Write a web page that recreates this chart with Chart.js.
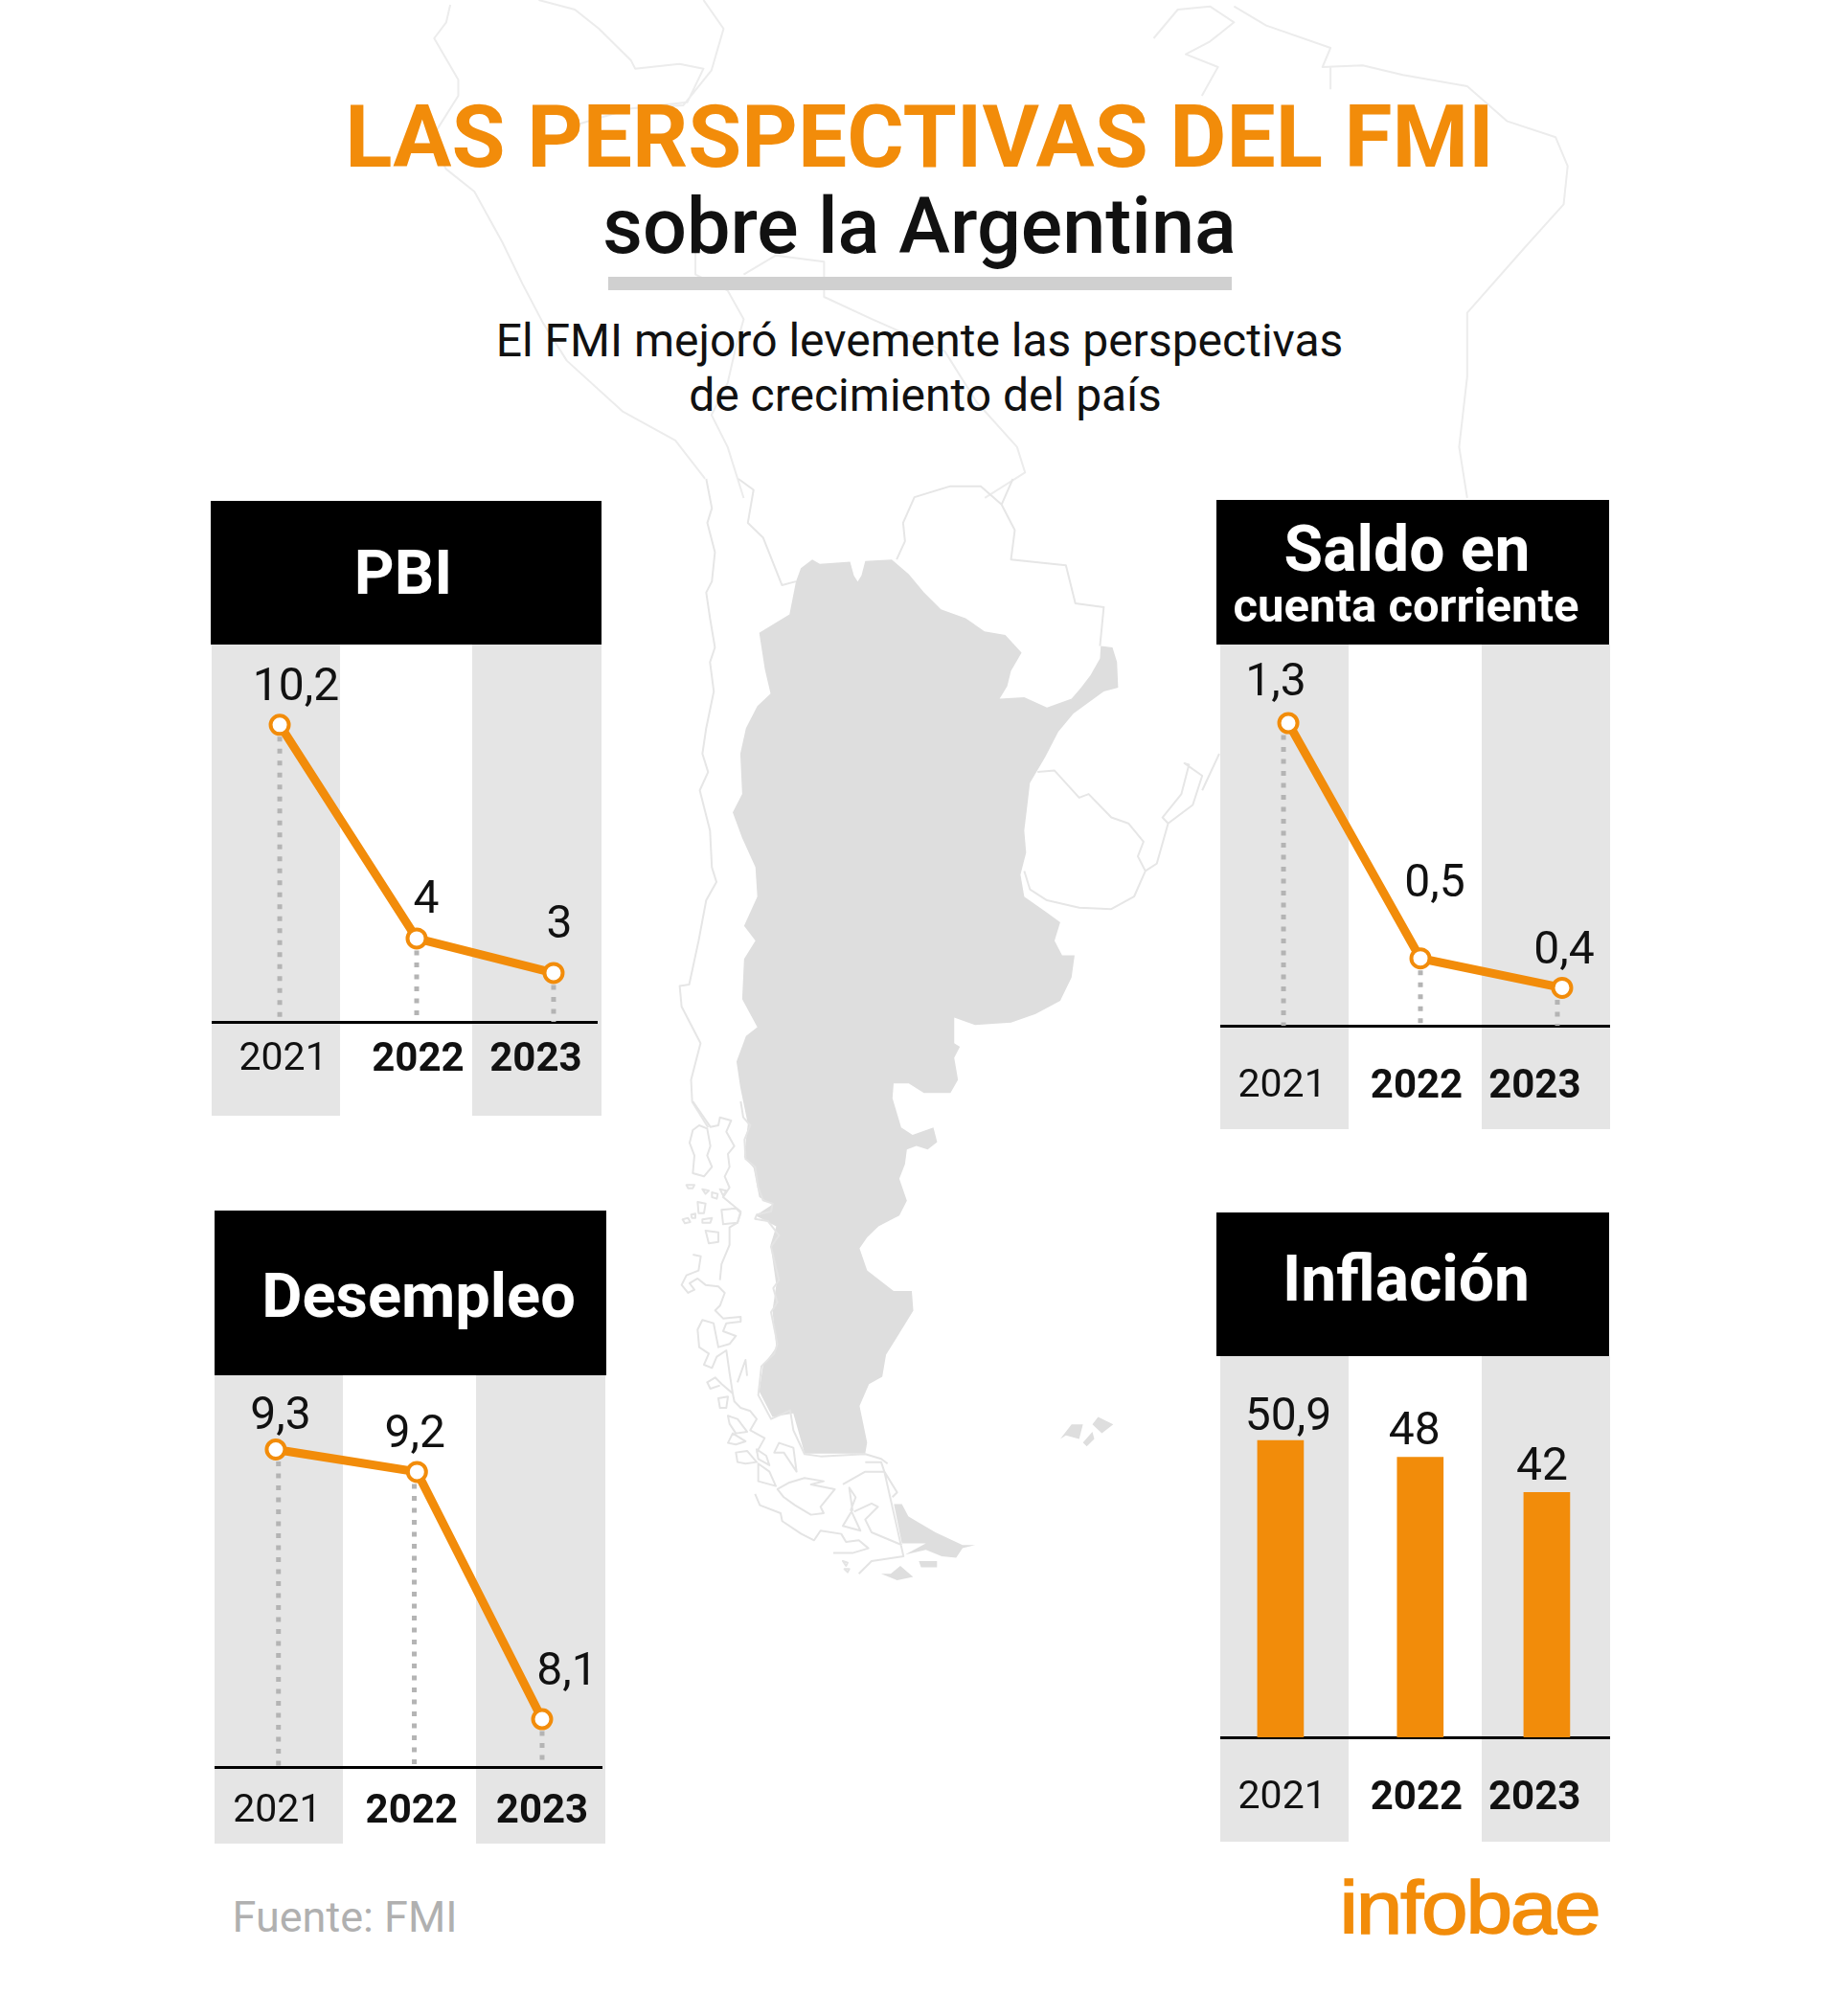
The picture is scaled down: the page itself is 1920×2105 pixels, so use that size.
<!DOCTYPE html>
<html lang="es">
<head>
<meta charset="utf-8">
<title>Las perspectivas del FMI sobre la Argentina</title>
<script src="https://cdn.jsdelivr.net/npm/chart.js@4"></script>
<style>
  html, body { margin: 0; padding: 0; background: #fff; }
  #page { position: relative; width: 1920px; height: 2105px; overflow: hidden; font-family: Roboto, sans-serif; color: #111; }
  #map { position: absolute; left: 0; top: 0; }
  .txt { position: absolute; white-space: nowrap; transform: translate(-50%, -50%); line-height: 1; }
  .head { position: absolute; background: #000; }
  .w { color: #fff; font-weight: 700; }
  canvas { position: absolute; }
</style>
</head>
<body>
<div id="page">
  <svg id="map" width="1920" height="2105" viewBox="0 0 1920 2105" fill="none">
    <g transform="translate(340,0) scale(0.8393,0.3333)" stroke="#ececec" stroke-width="2" stroke-linejoin="round">
      <path vector-effect="non-scaling-stroke" d="M155 15L150 70L135 120L165 250L165 300L130 440L150 530L185 600L220 760L245 890L270 1010L300 1130L370 1290L435 1380L472 1500"/>
      <path vector-effect="non-scaling-stroke" d="M265 0L310 30L340 90L380 190L385 215L440 200L470 215L450 320L380 340L300 400M470 0L495 90L480 220L445 330L380 340"/>
      <path vector-effect="non-scaling-stroke" d="M460 780L460 860L500 910L520 1000L510 1090L500 1200L480 1300L500 1400L520 1560M520 860L560 800L620 820L620 930L680 1000L770 1100L810 1260L860 1400L870 1480L820 1560"/>
      <path vector-effect="non-scaling-stroke" d="M1130 20L1170 80L1250 150L1240 210L1290 205L1340 235L1420 270L1470 380L1530 430L1545 520L1540 640L1490 780L1420 980L1420 1180L1410 1400L1420 1560M1030 120L1060 30L1100 20L1130 70L1100 130L1070 170L1110 210L1090 300M1250 210L1250 280"/>
    </g>
    <g transform="translate(680,500) scale(0.3953,0.7653)">
      <g fill="#dedede">
        <path d="M382 140L395 122L425 110L445 116L525 113L535 132L545 140L555 132L565 112L635 110L680 130L720 155L765 178L830 190L880 208L935 213L978 237L950 262L940 283L920 300L985 298L1045 312L1110 300L1135 285L1160 268L1185 245L1187 228L1218 230L1230 250L1233 285L1195 290L1115 320L1075 345L1040 380L1000 415L992 450L985 480L990 510L975 540L985 570L1040 590L1080 605L1065 630L1085 650L1118 650L1110 680L1080 712L1015 730L950 742L855 745L800 735L800 770L815 775L800 790L810 820L790 838L720 838L680 825L640 825L637 845L660 885L690 895L745 885L755 905L730 915L700 910L675 915L670 935L655 955L675 985L655 1005L600 1020L570 1035L550 1050L570 1080L640 1108L688 1108L692 1135L650 1170L620 1195L610 1225L575 1235L550 1265L570 1315L565 1330L405 1330L375 1275L320 1280L285 1245L295 1210L330 1185L320 1135L330 1100L315 1045L330 1020L275 1005L320 990L285 980L270 940L245 925L255 880L235 830L225 795L250 760L280 748L240 710L245 655L275 630L245 610L280 570L275 530L240 490L215 455L240 430L235 375L250 340L280 310L315 293L300 260L285 210L365 185Z"/>
        <path d="M1080 1310L1110 1290L1140 1290L1130 1310L1095 1305ZM1165 1290L1180 1280L1220 1290L1190 1302ZM1140 1315L1165 1300L1170 1310L1150 1320Z"/>
      </g>
      <g stroke="#e6e6e6" stroke-width="2" stroke-linejoin="round">
        <path vector-effect="non-scaling-stroke" d="M145 0L160 40L148 60L168 100L160 140L145 155L155 190L168 230L155 250L165 290L145 340L135 375L150 400L128 425L155 480L160 530L172 550L145 575L125 630L100 690L75 692L80 720L130 770L105 820L108 850L150 885"/>
        <path vector-effect="non-scaling-stroke" d="M230 0L270 15L255 60L295 80L345 145L382 140M648 110L670 85L665 60L695 25L790 10L870 10L925 35L960 70L950 110L1040 115L1095 118L1120 170L1195 175L1185 228M925 35L955 0"/>
        <path vector-effect="non-scaling-stroke" d="M1020 400L1065 398L1130 435L1155 430L1215 462L1260 470L1300 495L1285 515L1305 535L1275 570L1215 587L1130 585L1045 575L1000 560L985 535M1305 535L1335 525L1365 470L1350 462L1400 430L1420 390L1408 388L1455 405L1430 445L1365 470M1455 425L1500 375"/>
      </g>
    </g>
    <g transform="translate(690,1150) scale(0.3333)">
      <g fill="#dedede">
        <path d="M730 1262L755 1262L775 1300L800 1315L860 1350L945 1390L985 1390L945 1400L925 1430L880 1425L830 1405L765 1420L830 1385L755 1385Z"/>
        <path d="M808 1440L865 1440L865 1460L815 1460ZM690 1480L720 1480L750 1455L790 1490L740 1500Z"/>
      </g>
      <g stroke="#e4e4e4" stroke-width="2" stroke-linejoin="round">
        <path vector-effect="non-scaling-stroke" d="M250 0L258 50L280 75L262 120L265 180L295 205L305 270L320 310L350 320L345 345L300 355L295 368L335 375L370 420L345 455L370 560L352 585L365 630L345 660L365 760L355 790L315 830L305 920L345 995L405 968L415 1030L450 1105L500 1112L640 1105L690 1120L710 1135"/>
        <path vector-effect="non-scaling-stroke" d="M100 90L120 75L145 85L155 140L145 170L160 205L135 235L100 225L105 170L90 130ZM100 0L155 80L180 75L185 50L220 60L205 95L230 140L210 165L215 205L200 235L215 270L195 300L250 345L240 380L215 395L215 450L190 510L185 560"/>
        <path vector-effect="non-scaling-stroke" d="M80 262L105 262L100 272L85 272ZM130 275L150 280L140 290ZM160 285L178 290L175 305L160 300ZM115 315L140 320L135 350L118 350ZM68 370L85 365L92 378L75 382ZM95 355L108 352L108 365L97 365ZM190 340L235 335L250 350L240 380L195 385ZM130 370L160 365L155 380L130 380ZM140 405L180 410L180 440L150 445ZM185 275L205 280L195 295Z"/>
        <path vector-effect="non-scaling-stroke" d="M100 480L125 485L118 530L80 545L65 575L85 600L105 590L90 570L115 555L140 575L180 580L200 600L185 640L170 655L195 680L250 675L250 690L205 695L195 720L235 735L215 760L180 770L165 695L130 685L115 715L120 770L150 790L135 825L160 835L175 800L205 780L215 850L225 915L190 885L170 865L145 880L155 900L185 890M240 880L265 810L270 860M225 915L230 940L250 960L280 970L300 995L280 1030L325 1055L300 1100"/>
        <path vector-effect="non-scaling-stroke" d="M180 930L210 925L205 960L185 960ZM210 1070L225 1040L265 1065L235 1075ZM210 985L240 995L270 1035L235 1040L215 1010ZM235 1100L270 1095L300 1130L265 1135L240 1130ZM300 1090L330 1110L340 1140L305 1120ZM370 1070L415 1085L425 1160L385 1100L355 1100ZM305 1135L340 1160L360 1205L305 1190Z"/>
        <path vector-effect="non-scaling-stroke" d="M400 1195L450 1180L510 1190L470 1200L545 1215L500 1270L510 1290L470 1295L420 1265L385 1240L365 1215ZM295 1230L310 1265L375 1290L380 1315L440 1355L480 1375L500 1345L565 1355L580 1380L620 1375L650 1400L600 1415L540 1415M570 1200L640 1160L700 1160L740 1225L725 1240M640 1130L690 1130L700 1160L760 1425L660 1440L620 1480M590 1210L600 1280L570 1330L625 1345L595 1280L610 1240ZM605 1285L660 1260L680 1270L640 1310L660 1350L755 1390M570 1440L585 1445L580 1455ZM575 1465L590 1465L585 1475Z"/>
      </g>
    </g>
  </svg>

  <div class="txt" style="left:960px;top:143px;font-size:91px;font-weight:700;color:#f28c0a">LAS PERSPECTIVAS DEL FMI</div>
  <div class="txt" style="left:960px;top:236px;font-size:81px;font-weight:500">sobre la Argentina</div>
  <div class="head" style="left:635px;top:289px;width:651px;height:14px;background:#d0d0d0"></div>
  <div class="txt" style="left:960px;top:356px;font-size:48px">El FMI mejoró levemente las perspectivas</div>
  <div class="txt" style="left:966px;top:413px;font-size:48px">de crecimiento del país</div>

  <div class="head" style="left:220px;top:523px;width:408px;height:150px"></div>
  <div class="txt w" style="left:421px;top:598px;font-size:65px">PBI</div>
  <div class="head" style="left:1270px;top:522px;width:410px;height:151px"></div>
  <div class="txt w" style="left:1469px;top:574px;font-size:66px">Saldo en</div>
  <div class="txt w" style="left:1468px;top:632px;font-size:49px">cuenta corriente</div>
  <div class="head" style="left:224px;top:1264px;width:409px;height:172px"></div>
  <div class="txt w" style="left:437px;top:1353px;font-size:65px">Desempleo</div>
  <div class="head" style="left:1270px;top:1266px;width:410px;height:150px"></div>
  <div class="txt w" style="left:1468px;top:1336px;font-size:66px">Inflación</div>

  <canvas id="pbi" width="407" height="492" style="left:221px;top:673px;background:linear-gradient(to right,#e5e5e5 134px,#fff 134px,#fff 272px,#e5e5e5 272px)"></canvas>
  <canvas id="saldo" width="407" height="506" style="left:1274px;top:673px;background:linear-gradient(to right,#e5e5e5 134px,#fff 134px,#fff 273px,#e5e5e5 273px)"></canvas>
  <canvas id="desempleo" width="408" height="489" style="left:224px;top:1436px;background:linear-gradient(to right,#e5e5e5 134px,#fff 134px,#fff 273px,#e5e5e5 273px)"></canvas>
  <canvas id="inflacion" width="407" height="507" style="left:1274px;top:1416px;background:linear-gradient(to right,#e5e5e5 134px,#fff 134px,#fff 273px,#e5e5e5 273px)"></canvas>

  <div class="txt" style="left:360px;top:2001px;font-size:45px;color:#b0b0b0">Fuente: FMI</div>
  <div class="txt" style="left:1534px;top:1992px;font-size:78px;font-family:'Liberation Sans',sans-serif;color:#f28c0a;letter-spacing:-2px;-webkit-text-stroke:1.5px #f28c0a;transform:translate(-50%,-50%) scaleX(1.12)">infobae</div>
</div>

<script>
var years = ['2021', '2022', '2023'];
var pbiValues = [10.2, 4, 3];
var saldoValues = [1.3, 0.5, 0.4];
var desempleoValues = [9.3, 9.2, 8.1];
var inflacionValues = [50.9, 48, 42];

var ORANGE = '#f28c0a';

// writes the value next to each mark, with a comma as in the original
var valueLabels = {
  id: 'valueLabels',
  afterDatasetsDraw: function (chart, args, opts) {
    var ctx = chart.ctx;
    var marks = chart.getDatasetMeta(0).data;
    ctx.save();
    ctx.font = '48px Roboto';
    ctx.fillStyle = '#111';
    ctx.textAlign = 'center';
    ctx.textBaseline = 'middle';
    marks.forEach(function (mark, i) {
      var text = String(chart.data.datasets[0].data[i].y).replace('.', ',');
      ctx.fillText(text, mark.x + opts.shift[i][0], mark.y + opts.shift[i][1]);
    });
    ctx.restore();
  }
};

function xAxis(p) {
  return {
    type: 'linear',
    min: p.xRange[0],
    max: p.xRange[1],
    offset: false,
    grid: { display: false },
    border: { display: true, color: '#000', width: 3 },
    afterBuildTicks: function (axis) {
      axis.ticks = p.labelAt.map(function (v) { return { value: v }; });
    },
    // plot runs the full panel width, labels must not push it in
    afterFit: function (axis) {
      axis.height = p.axisHeight;
      axis.paddingLeft = 0;
      axis.paddingRight = 0;
    },
    ticks: {
      autoSkip: false,
      maxRotation: 0,
      padding: p.tickPad,
      color: '#111',
      font: function (c) {
        return c.index === 0
          ? { family: 'Roboto', size: 41, weight: 'normal' }
          : { family: 'Roboto', size: 42, weight: 'bold' };
      },
      callback: function (v, i) { return years[i]; }
    }
  };
}

function options(p) {
  return {
    responsive: false,
    animation: false,
    layout: { autoPadding: false, padding: { left: 0, top: 0, bottom: 0, right: p.padRight || 0 } },
    plugins: { legend: { display: false }, tooltip: { enabled: false }, valueLabels: { shift: p.shift } },
    scales: {
      x: xAxis(p),
      y: { display: false, min: p.yRange[0], max: p.yRange[1] }
    }
  };
}

function lineChart(id, values, p) {
  var datasets = [{
    data: values.map(function (v, i) { return { x: p.xAt[i], y: v }; }),
    borderColor: ORANGE,
    borderWidth: 9,
    pointRadius: 9.5,
    pointBorderWidth: 4,
    pointBackgroundColor: '#fff',
    pointBorderColor: ORANGE,
    tension: 0
  }];
  // dotted drops down to the axis
  values.forEach(function (v, i) {
    datasets.push({
      data: [{ x: p.dropAt[i], y: v }, { x: p.dropAt[i], y: p.yRange[0] }],
      borderColor: '#b4b4b4',
      borderWidth: 5,
      borderDash: [5, 7.5],
      pointRadius: 0
    });
  });
  new Chart(document.getElementById(id), { type: 'line', data: { datasets: datasets }, options: options(p), plugins: [valueLabels] });
}

lineChart('pbi', pbiValues, {
  xRange: [2020.503, 2023.315], yRange: [1.58, 12.53], axisHeight: 98, tickPad: 7, padRight: 5,
  xAt: [2021, 2022, 2023], dropAt: [2021, 2022, 2023], labelAt: [2021.025, 2022.01, 2022.87],
  shift: [[17, -38], [10, -39], [6, -49]]
});

lineChart('saldo', saldoValues, {
  xRange: [2020.503, 2023.35], yRange: [0.271, 1.567], axisHeight: 108, tickPad: 31,
  xAt: [2021, 2021.965, 2023], dropAt: [2020.965, 2021.965, 2022.965], labelAt: [2020.955, 2021.937, 2022.8],
  shift: [[-13, -41], [15, -77], [2, -37]]
});

lineChart('desempleo', desempleoValues, {
  xRange: [2020.54, 2023.446], yRange: [7.887, 9.63], axisHeight: 80, tickPad: 14, padRight: 4,
  xAt: [2021, 2022.06, 2023], dropAt: [2021.02, 2022.04, 2023], labelAt: [2021.01, 2022.02, 2023],
  shift: [[5, -33], [-2, -38], [26, -48]]
});

var inflacionLayout = {
  xRange: [2020.56, 2023.406], yRange: [0, 65.35], axisHeight: 109, tickPad: 31,
  xAt: [2021, 2022.02, 2022.944], labelAt: [2021.012, 2021.993, 2022.855],
  shift: [[8, -23], [-6, -26], [-5, -25]]
};
new Chart(document.getElementById('inflacion'), {
  type: 'bar',
  data: {
    datasets: [{
      data: inflacionValues.map(function (v, i) { return { x: inflacionLayout.xAt[i], y: v }; }),
      backgroundColor: ORANGE,
      barThickness: 48
    }]
  },
  options: options(inflacionLayout),
  plugins: [valueLabels]
});
</script>
</body>
</html>
